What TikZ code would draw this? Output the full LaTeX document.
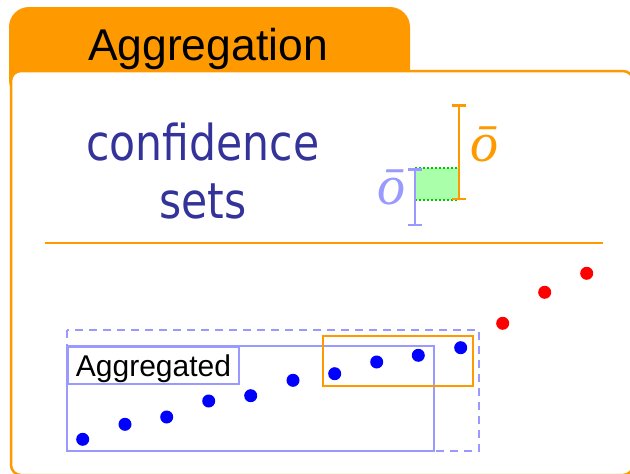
\documentclass[tikz,border=0pt]{standalone}
\usepackage{fontspec}
\setmainfont{Liberation Sans}
\newfontfamily\confam[FakeStretch=0.86]{DejaVu Sans}
\newfontfamily\serfam{Liberation Serif}
\usetikzlibrary{arrows.meta, positioning}
\definecolor{aggorange}{HTML}{FF9900}
\definecolor{aggnavy}{HTML}{333399}
\definecolor{agglilac}{HTML}{9999FF}
\definecolor{aggmint}{HTML}{AAFFAA}
\definecolor{agggreen}{HTML}{00C800}

\begin{document}
\begin{tikzpicture}[
    x=1pt, y=-1pt,
    bdot/.style={circle, fill=blue, inner sep=0pt, minimum size=13pt},
    rdot/.style={circle, fill=red, inner sep=0pt, minimum size=13pt},
    ebar/.style={line width=2.5pt, {Bar[width=14pt]}-{Bar[width=14pt]}},
    conf/.style={anchor=base, text=aggnavy, font=\confam\fontsize{49.5}{58}\selectfont},
    omark/.style={font=\serfam\itshape\fontsize{56}{60}\selectfont}
]
    \useasboundingbox (0,0) rectangle (630,474);
    \fill[aggorange, rounded corners=20pt] (9,7) rectangle (410,100);
    \draw[aggorange, line width=2.5pt, fill=white, rounded corners=10pt] (11,71) rectangle (633,475);
    \node[anchor=base, font=\fontsize{44.5}{50}\selectfont] (title) at (208,60) {Aggregation};

    \node[conf] (confidence) at (203,160) {confidence};
    \node[conf] (sets) at (203,218) {sets};
    \draw[aggorange, line width=2pt] (45,243) -- (603,243);

    \coordinate (otop) at (459,104);
    \coordinate (obot) at (459,200);
    \coordinate (btop) at (415,168);
    \coordinate (bbot) at (415,226);
    \fill[aggmint] (btop) rectangle (obot);
    \draw[agggreen, line width=2pt, dotted] (btop) -- (otop |- btop);
    \draw[agggreen, line width=2pt, dotted] (btop |- obot) -- (obot);
    \draw[ebar, aggorange] (otop) -- (obot);
    \draw[ebar, agglilac] (btop) -- (bbot);
    \node[omark, text=aggorange] (olabel) at (484,144) {ō};
    \node[omark, text=agglilac] (blabel) at (391,187) {ō};

    \draw[agglilac, line width=2pt, dash pattern=on 8pt off 6pt] (67,330) rectangle (479,451);
    \draw[agglilac, line width=2pt] (67,346) rectangle (434,451);
    \node[draw=agglilac, line width=2pt, fill=white, inner sep=0pt, minimum width=171pt,
          text height=29pt, text depth=8pt, anchor=north west, font=\fontsize{30}{34}\selectfont]
          (aggregated) at (67,346) {Aggregated};
    \draw[aggorange, line width=2.5pt] (323,336) rectangle (473,386);

    \foreach \px/\py [count=\i] in {82.7/439.3, 125/424.3, 166.7/417, 208.7/401, 250.7/395.7,
        293/380.3, 334.7/373.7, 376.7/362, 418.3/355.3, 460.7/347.7}
        \node[bdot] (b\i) at (\px,\py) {};
    \foreach \px/\py [count=\i] in {502.7/323.3, 544.7/292.3, 586.7/273.3}
        \node[rdot] (r\i) at (\px,\py) {};
\end{tikzpicture}
\end{document}
